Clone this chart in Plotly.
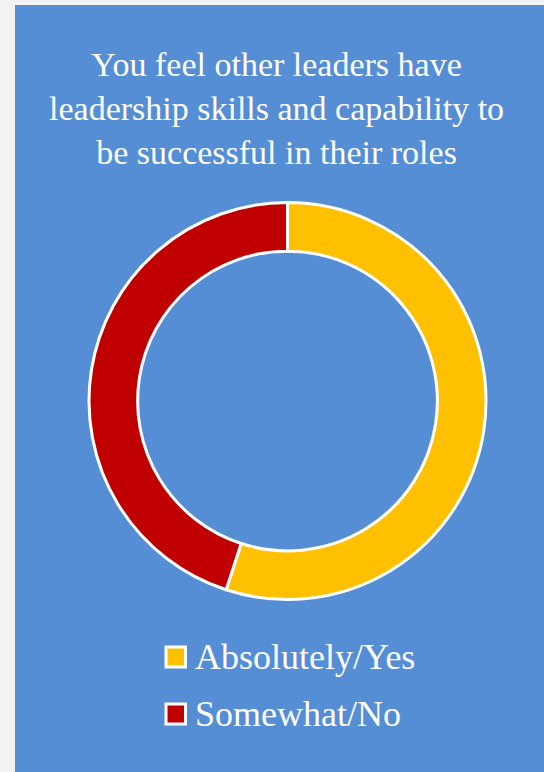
import plotly.graph_objects as go

labels = ["Absolutely/Yes", "Somewhat/No"]
values = [55, 45]
colors = ["#FFC000", "#C00000"]
title_lines = ["You feel other leaders have",
               "leadership skills and capability to",
               "be successful in their roles"]

W, H = 544, 772
BLUE = "#558ED5"
FONT = "Liberation Serif"

def px(x):
    return x / W

def py(y_top):
    return 1 - y_top / H

cx, cy, r = 287.5, 401, 198.5

fig = go.Figure()
fig.add_trace(go.Pie(
    labels=labels, values=values, hole=0.755,
    marker=dict(colors=colors, line=dict(color="white", width=3)),
    sort=False, direction="clockwise", rotation=0,
    textinfo="none", showlegend=False, hoverinfo="label+percent",
    domain=dict(x=[px(cx - r), px(cx + r)], y=[py(cy + r), py(cy - r)]),
))

shapes = [dict(type="rect", xref="paper", yref="paper",
               x0=px(15), x1=1, y0=0, y1=py(5),
               fillcolor=BLUE, line=dict(width=0), layer="below")]
annotations = [dict(text="<br>".join(title_lines), xref="paper", yref="paper",
                    x=px(276), y=py(108), xanchor="center", yanchor="middle",
                    showarrow=False, align="center",
                    font=dict(family=FONT, size=34, color="white"))]

leg_y = [657, 714]
for lab, col, yy in zip(labels, colors, leg_y):
    shapes.append(dict(type="rect", xref="paper", yref="paper",
                       x0=px(166), x1=px(185.5), y0=py(yy + 10), y1=py(yy - 10),
                       fillcolor=col, line=dict(color="white", width=3)))
    annotations.append(dict(text=lab, xref="paper", yref="paper",
                            x=px(193), y=py(yy), xanchor="left", yanchor="middle",
                            showarrow=False,
                            font=dict(family=FONT, size=36, color="white")))

fig.update_layout(
    width=W, height=H, margin=dict(l=0, r=0, t=0, b=0),
    paper_bgcolor="#F2F2F2", plot_bgcolor="#F2F2F2",
    shapes=shapes, annotations=annotations,
)
fig.write_html("out.html")
